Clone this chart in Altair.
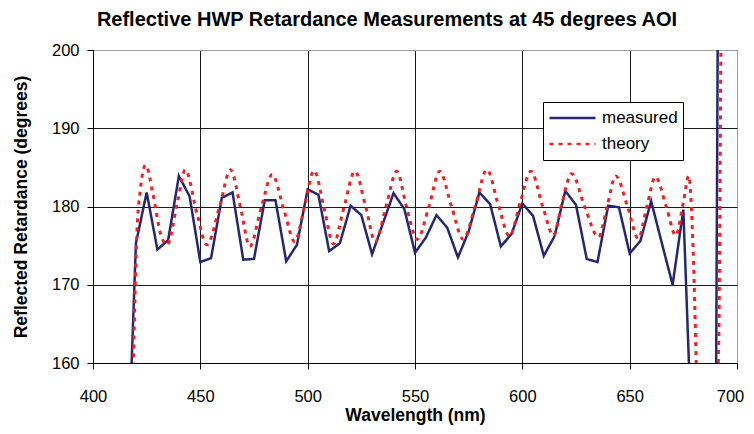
import altair as alt
import pandas as pd

# measured retardance, every 5 nm
meas_wl = [415, 420, 425, 430, 435, 440, 445, 450, 455, 460, 465, 470, 475, 480,
           485, 490, 495, 500, 505, 510, 515, 520, 525, 530, 535, 540, 545, 550,
           555, 560, 565, 570, 575, 580, 585, 590, 595, 600, 605, 610, 615, 620,
           625, 630, 635, 640, 645, 650, 655, 660, 665, 670, 675, 680, 685, 690, 695]
meas_val = [137.0, 175.3, 181.8, 174.5, 175.7, 183.9, 181.3, 172.9, 173.4, 181.1,
            181.8, 173.2, 173.3, 180.8, 180.8, 173.0, 175.1, 182.2, 181.5, 174.3,
            175.3, 180.1, 178.9, 173.9, 177.8, 181.7, 179.7, 174.1, 176.0, 178.9,
            177.3, 173.5, 176.8, 181.8, 180.3, 174.9, 176.5, 180.4, 178.8, 173.7,
            176.2, 182.0, 180.2, 173.3, 172.9, 180.1, 179.9, 174.0, 175.6, 180.7,
            175.3, 170.0, 179.6, 142.0, 140.0, 143.0, 430.0]

# theory curve (peaks, troughs and mid crossings)
theo_wl = [417.5, 420.5, 422.0, 424.5, 428.0, 431.5, 434.5, 439.5, 443.0, 448.5,
           453.0, 459.0, 464.0, 469.0, 473.0, 478.5, 483.5, 489.0, 494.0, 498.5,
           503.0, 507.5, 512.0, 517.0, 522.0, 527.0, 531.5, 536.5, 541.5, 546.0,
           551.0, 556.5, 561.5, 567.0, 572.5, 578.0, 583.5, 589.0, 594.0, 599.0,
           604.0, 609.5, 614.5, 618.5, 623.0, 629.0, 635.5, 639.5, 643.5, 649.0,
           654.0, 658.0, 662.0, 667.0, 671.5, 675.0, 677.5, 679.5, 681.5, 686.0,
           691.5, 692.5, 693.5]
theo_val = [140.0, 177.0, 182.0, 185.3, 181.5, 176.5, 175.1, 180.8, 184.7, 179.0,
            175.1, 180.0, 184.7, 179.5, 174.9, 180.0, 184.1, 179.5, 175.5, 180.0,
            184.6, 180.0, 175.2, 180.0, 184.5, 180.0, 175.5, 180.0, 184.5, 180.0,
            175.8, 180.0, 184.5, 180.0, 175.8, 180.0, 184.7, 180.0, 176.2, 180.5,
            184.5, 180.0, 176.3, 180.5, 184.2, 180.0, 176.1, 180.0, 183.9, 180.0,
            175.9, 180.0, 183.8, 180.0, 176.3, 180.5, 183.9, 175.0, 155.0, 120.0,
            163.0, 200.0, 240.0]

series_names = ["measured", "theory"]
series_colors = ["#262673", "#EE2222"]
series_dash = [[1, 0], [4, 5]]
x_ticks = [400, 450, 500, 550, 600, 650, 700]
y_ticks = [160, 170, 180, 190, 200]

meas = pd.DataFrame({"wl": meas_wl, "val": meas_val, "series": "measured"})
theo = pd.DataFrame({"wl": theo_wl, "val": theo_val, "series": "theory"})

FONT = "Liberation Sans"

x_enc = alt.X(
    "wl:Q",
    scale=alt.Scale(domain=[400, 700], nice=False, zero=False),
    axis=alt.Axis(
        values=x_ticks, title="Wavelength (nm)", format="d", labelFlush=False,
        labelOffset={"condition": {"test": "datum.value == 700", "value": -7}, "value": 0},
        gridColor={"condition": {"test": "datum.value == 700", "value": "#A0A0A0"}, "value": "#1a1a1a"},
        labelPadding=19, titlePadding=2,
    ),
)
y_enc = alt.Y(
    "val:Q",
    scale=alt.Scale(domain=[160, 200], nice=False, zero=False),
    axis=alt.Axis(
        values=y_ticks, title="Reflected Retardance (degrees)", format="d", labelFlush=False,
        gridColor={"condition": {"test": "datum.value == 200", "value": "#A0A0A0"}, "value": "#1a1a1a"},
        labelPadding=8, titlePadding=21,
    ),
)
color_enc = alt.Color(
    "series:N",
    scale=alt.Scale(domain=series_names, range=series_colors),
    legend=alt.Legend(title=None),
)
dash_enc = alt.StrokeDash(
    "series:N",
    scale=alt.Scale(domain=series_names, range=series_dash),
    legend=alt.Legend(title=None),
)

measured = alt.Chart(meas).mark_line(strokeWidth=2.5, clip=True, interpolate="linear").encode(
    x=x_enc, y=y_enc, color=color_enc, strokeDash=dash_enc
)
theory = alt.Chart(theo).mark_line(strokeWidth=3, clip=True, interpolate="monotone").encode(
    x=x_enc, y=y_enc, color=color_enc, strokeDash=dash_enc
)

chart = alt.layer(measured, theory).properties(
    width=644,
    height=313,
    autosize=alt.AutoSizeParams(type="none"),
    padding={"left": 85, "top": 42, "right": 9, "bottom": 63},
    title=alt.TitleParams(
        "Reflective HWP Retardance Measurements at 45 degrees AOI",
        font=FONT, fontSize=20, fontWeight="bold", color="black",
        anchor="middle", dx=-28, offset=12,
    ),
).configure_view(
    stroke="#A0A0A0", strokeWidth=1
).configure_axis(
    labelFont=FONT, labelFontSize=16.5, labelColor="black",
    titleFont=FONT, titleFontSize=17.5, titleFontWeight="bold", titleColor="black",
    domainColor="black", domainWidth=1, tickColor="black", tickSize=6, tickWidth=1,
    gridWidth=1, gridOpacity=1,
).configure_legend(
    orient="none", legendX=450, legendY=52,
    strokeColor="black", fillColor="white", padding=5,
    labelFont=FONT, labelFontSize=17, labelColor="black", labelOffset=5,
    symbolType="stroke", symbolSize=2116, symbolStrokeWidth=2.5,
    clipHeight=22, rowPadding=4,
)

chart.save("out.html", embed_options={"renderer": "svg", "actions": False})
